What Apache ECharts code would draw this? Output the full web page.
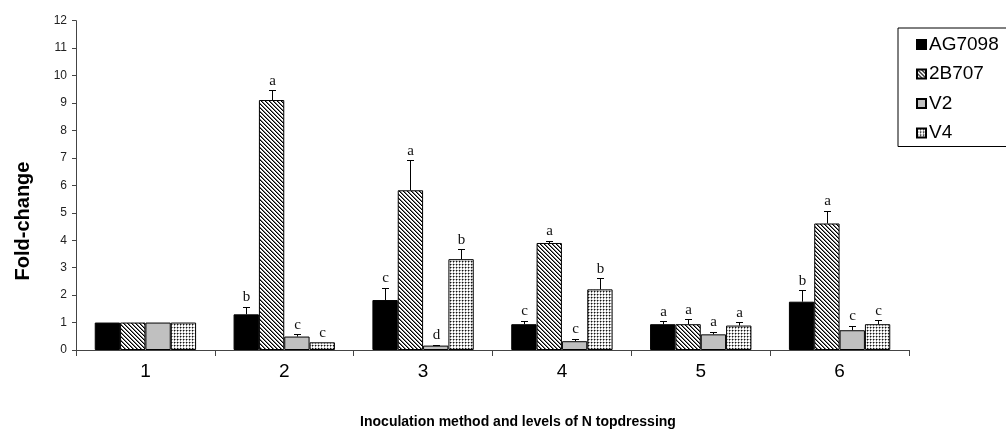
<!DOCTYPE html>
<html>
<head>
<meta charset="utf-8">
<script src="https://cdn.jsdelivr.net/npm/echarts@6/dist/echarts.min.js"></script>
<style>html,body{margin:0;padding:0;background:#fff}#c{width:1006px;height:431px}</style>
</head>
<body>
<div id="c"></div>
<script>
const categories = ['1', '2', '3', '4', '5', '6'];
const seriesNames = ['AG7098', '2B707', 'V2', 'V4'];
const yTicks = { min: 0, max: 12, interval: 1 };

const agValues = [1.0, 1.30, 1.82, 0.94, 0.94, 1.76];
const b2Values = [1.0, 9.11, 5.82, 3.90, 0.94, 4.61];
const v2Values = [1.0, 0.49, 0.16, 0.32, 0.57, 0.72];
const v4Values = [1.0, 0.28, 3.31, 2.21, 0.89, 0.94];

const agErr = [0, 0.27, 0.44, 0.12, 0.10, 0.41];
const b2Err = [0, 0.36, 1.10, 0.08, 0.18, 0.46];
const v2Err = [0, 0.08, 0.03, 0.09, 0.09, 0.17];
const v4Err = [0, 0, 0.36, 0.40, 0.12, 0.14];

const agLetters = ['', 'b', 'c', 'c', 'a', 'b'];
const b2Letters = ['', 'a', 'a', 'a', 'a', 'a'];
const v2Letters = ['', 'c', 'd', 'c', 'a', 'c'];
const v4Letters = ['', 'c', 'b', 'b', 'a', 'c'];

const xTitle = 'Inoculation method and levels of N topdressing';
const yTitle = 'Fold-change';

const allValues = [agValues, b2Values, v2Values, v4Values];
const allErr = [agErr, b2Err, v2Err, v4Err];
const allLetters = [agLetters, b2Letters, v2Letters, v4Letters];

function makeTile(w, h, painter) {
  const c = document.createElement('canvas');
  c.width = w; c.height = h;
  const ctx = c.getContext('2d');
  painter(ctx);
  return c;
}
const hatch = makeTile(4, 4, ctx => {
  ctx.fillStyle = '#fff'; ctx.fillRect(0, 0, 4, 4);
  for (let i = 0; i < 4; i++) {
    ctx.fillStyle = '#000'; ctx.fillRect(i, i, 1, 1);
    ctx.fillStyle = '#7a7a7a'; ctx.fillRect((i + 1) % 4, i, 1, 1);
  }
});
const dots = makeTile(3, 3, ctx => {
  ctx.fillStyle = '#cfcfcf'; ctx.fillRect(0, 0, 3, 3);
  ctx.fillStyle = '#ffffff'; ctx.fillRect(1, 1, 2, 2);
  ctx.fillStyle = '#8a8a8a'; ctx.fillRect(0, 1, 1, 1); ctx.fillRect(1, 0, 1, 1);
  ctx.fillStyle = '#111'; ctx.fillRect(0, 0, 1, 1);
});

const fills = ['#000000', { image: hatch, repeat: 'repeat' }, '#c0c0c0', { image: dots, repeat: 'repeat' }];
const GAP = 0.27;

const barSeries = seriesNames.map((name, i) => ({
  name: name,
  type: 'bar',
  data: allValues[i],
  barGap: 0,
  barCategoryGap: (GAP * 100) + '%',
  itemStyle: { color: fills[i], borderColor: '#000', borderWidth: 1 },
  z: 2
}));

const errData = [];
for (let s = 0; s < 4; s++) {
  for (let k = 0; k < categories.length; k++) {
    errData.push([k, allValues[s][k] + allErr[s][k], s, allValues[s][k]]);
  }
}

const errSeries = {
  type: 'custom',
  name: 'err',
  z: 5,
  silent: true,
  data: errData,
  encode: { x: 0, y: 1 },
  renderItem: function (params, api) {
    const k = api.value(0), top = api.value(1), s = api.value(2), v = api.value(3);
    const band = api.size([1, 0])[0];
    const bw = band * (1 - GAP) / 4;
    const cx = Math.round(api.coord([k, 0])[0] + (s - 1.5) * bw);
    const yTop = api.coord([k, top])[1];
    const yBar = api.coord([k, v])[1];
    const children = [];
    if (top > v) {
      children.push({ type: 'line', shape: { x1: cx + 0.5, y1: yBar, x2: cx + 0.5, y2: Math.round(yTop) + 0.5 }, style: { stroke: '#000', lineWidth: 1 } });
      children.push({ type: 'line', shape: { x1: cx - 3, y1: Math.round(yTop) + 0.5, x2: cx + 4, y2: Math.round(yTop) + 0.5 }, style: { stroke: '#000', lineWidth: 1 } });
    }
    const letter = allLetters[s][k];
    if (letter) {
      children.push({ type: 'text', x: cx + 0.5, y: yTop - 2, style: { text: letter, fill: '#111', font: '15px "Liberation Serif", "DejaVu Serif", serif', textAlign: 'center', textVerticalAlign: 'bottom' } });
    }
    return { type: 'group', children: children };
  }
};

const chart = echarts.init(document.getElementById('c'), null, { renderer: 'canvas' });
chart.setOption({
  animation: false,
  backgroundColor: '#fff',
  grid: { left: 76, right: 97, top: 20.7, bottom: 81, containLabel: false },
  legend: {
    data: seriesNames,
    orient: 'vertical',
    left: 898, top: 28,
    itemWidth: 9, itemHeight: 9, itemGap: 10.5,
    padding: [7, 10, 4, 18],
    borderColor: '#000', borderWidth: 1,
    textStyle: { fontFamily: 'Liberation Sans, Arial, sans-serif', fontSize: 19, color: '#000', padding: [0, 0, 0, -2] },
    icon: 'rect'
  },
  xAxis: {
    type: 'category',
    data: categories,
    axisLine: { lineStyle: { color: '#444', width: 1 } },
    axisTick: { show: true, length: 6, lineStyle: { color: '#444' } },
    axisLabel: { fontFamily: 'Liberation Sans, Arial, sans-serif', fontSize: 19, color: '#000', margin: 12 }
  },
  yAxis: {
    type: 'value',
    min: yTicks.min, max: yTicks.max, interval: yTicks.interval,
    splitLine: { show: false },
    axisLine: { show: true, lineStyle: { color: '#444', width: 1 } },
    axisTick: { show: true, length: 4, lineStyle: { color: '#444' } },
    axisLabel: { fontFamily: 'Liberation Sans, Arial, sans-serif', fontSize: 12, color: '#222', margin: 9 }
  },
  graphic: [
    { type: 'text', x: 23, y: 221, rotation: Math.PI / 2, style: { text: yTitle, font: 'bold 20px "Liberation Sans", Arial, sans-serif', fill: '#000', textAlign: 'center', textVerticalAlign: 'middle' } },
    { type: 'text', x: 518, y: 422, style: { text: xTitle, font: 'bold 14px "Liberation Sans", Arial, sans-serif', fill: '#000', textAlign: 'center', textVerticalAlign: 'middle' } }
  ],
  series: barSeries.concat([errSeries])
});
</script>
</body>
</html>
